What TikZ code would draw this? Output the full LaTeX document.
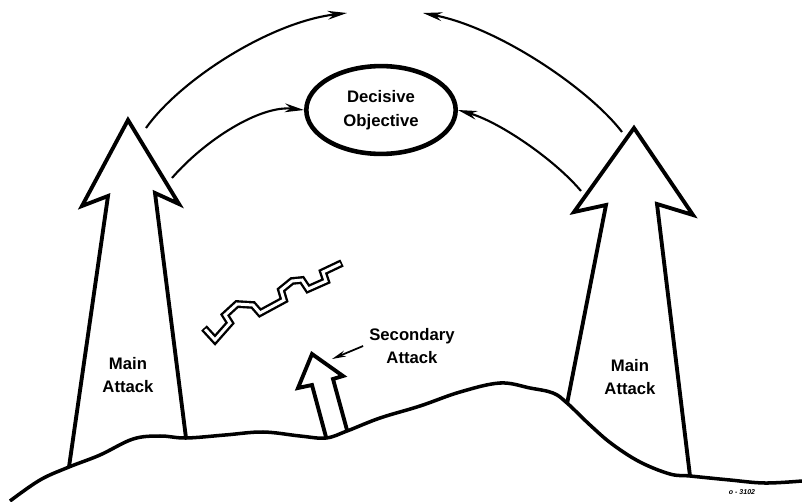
\documentclass[tikz,border=0pt]{standalone}
\usepackage{fontspec}
\setmainfont{Liberation Sans}
\usetikzlibrary{arrows.meta,shapes.geometric}

\tikzset{
  bigarrow/.style={line width=2.2pt, line join=miter, fill=white},
  flow/.style={line width=1.2pt, -{Stealth[length=11pt, width=5pt]}},
  lbl/.style={font=\fontsize{9.5}{13.5}\selectfont\bfseries, align=center},
}

\begin{document}
\begin{tikzpicture}[x=0.02cm, y=-0.02cm]
    \useasboundingbox (0,0) rectangle (802,501);

    % main attacks, left and right
    \draw[bigarrow] (69,467) -- (108,196) -- (82,206) -- (128,120) coordinate (ltip)
        -- (179,204) -- (155,193) -- (186,438);
    \draw[bigarrow] (567,404) -- (606,205) -- (574,212) -- (634,128) coordinate (rtip)
        -- (693,215) -- (657,204) -- (690,476);

    % secondary attack
    \draw[bigarrow] (326,437) -- (312,385) -- (298,388) -- (312,354) coordinate (stip)
        -- (343,376) -- (333,379) -- (347,430);

    % ground
    \draw[line width=2pt, line join=round] plot[smooth, tension=0.6] coordinates {
        (10,501) (40,480) (69,467) (100,455) (133,439) (160,436) (186,438)
        (225,435) (263,432) (300,436) (326,438) (347,431) (380,418) (420,406)
        (460,392) (500,383) (530,388) (553,393) (567,403) (590,425) (612,444)
        (640,462) (670,474) (690,476) (730,480) (765,483) (802,481)};

    % obstacle
    \def\obstacle{(204,328) -- (215,340) -- (230,323) -- (225,315) -- (237,304)
        -- (253,305) -- (260,313) -- (284,300) -- (281,290) -- (292,281) -- (302,280)
        -- (308,289) -- (326,281) -- (323,272) -- (342,263)}
    \draw[line width=4.4pt, line join=miter] \obstacle;
    \draw[line width=1.7pt, white, line join=miter, shorten <=1pt, shorten >=1pt] \obstacle;

    % objective
    \node[draw, ellipse, line width=2.6pt, minimum width=85pt, minimum height=50pt, inner sep=0pt, lbl]
        (obj) at (381,110) {Decisive\\Objective};

    \node[lbl] (lmain) at (128,375) {Main\\Attack};
    \node[lbl] (rmain) at (630,377) {Main\\Attack};
    \node[lbl] (sec) at (412,346) {Secondary\\Attack};

    % converging flows
    \coordinate (ltop) at (347,13);
    \coordinate (rtop) at (423,13);
    \draw[flow] (146,128) .. controls (180,80) and (270,22) .. (ltop);
    \draw[flow] (622,132) .. controls (590,90) and (500,28) .. (rtop);
    \draw[flow] (172,178) .. controls (205,140) and (260,105) .. (obj.west);
    \draw[flow] (581,191) .. controls (555,160) and (500,122) .. (obj.east);

    \draw[line width=1pt, -{Stealth[length=8pt, width=3.5pt]}] (sec.west) -- (332,359);

    \node[font=\fontsize{4}{5}\selectfont\itshape\bfseries] (code) at (742,492) {o - 3102};
\end{tikzpicture}
\end{document}
